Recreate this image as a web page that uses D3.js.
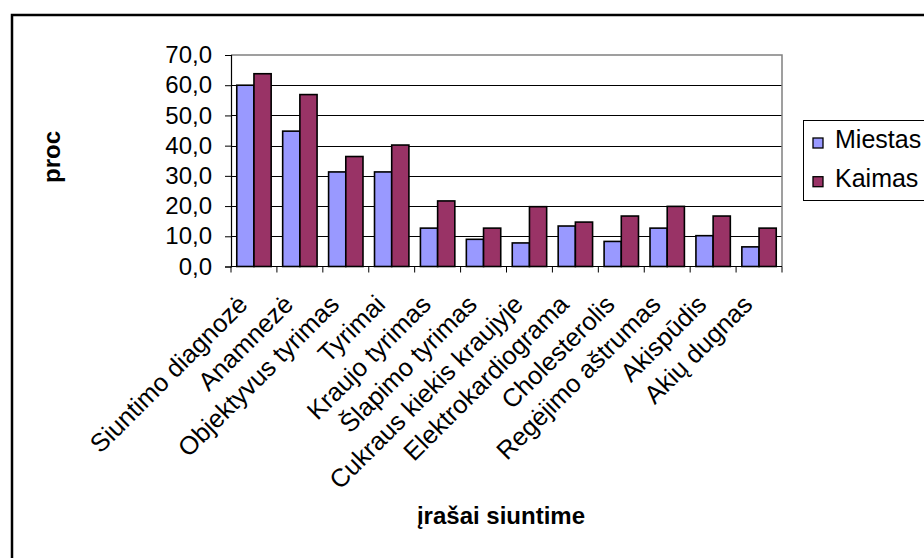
<!DOCTYPE html>
<html>
<head>
<meta charset="utf-8">
<script src="https://cdn.jsdelivr.net/npm/d3@7"></script>
<style>
  html, body { margin: 0; padding: 0; background: #fff; overflow: hidden; }
  svg { display: block; font-family: "Liberation Sans", Arial, sans-serif; }
</style>
</head>
<body>
<svg id="chart" width="924" height="558"></svg>
<script>
// Categories and series values (percent)
const categories = [
  "Siuntimo diagnozė", "Anamnezė", "Objektyvus tyrimas", "Tyrimai",
  "Kraujo tyrimas", "Šlapimo tyrimas", "Cukraus kiekis kraujyje",
  "Elektrokardiograma", "Cholesterolis", "Regėjimo aštrumas",
  "Akispūdis", "Akių dugnas"
];
const seriesNames = ["Miestas", "Kaimas"];
const miestas = [60.0, 44.8, 31.3, 31.3, 12.7, 9.0, 7.8, 13.4, 8.3, 12.7, 10.2, 6.5];
const kaimas  = [63.8, 56.9, 36.4, 40.2, 21.7, 12.7, 19.8, 14.7, 16.7, 19.9, 16.7, 12.7];
const yTicks = [0, 10, 20, 30, 40, 50, 60, 70];
const colors = ["#9999FF", "#993366"];

const FONT = 24;
const svg = d3.select("#chart");
const plot = { left: 231, right: 782, top: 55, bottom: 266.5 };

// Outer chart frame
svg.append("rect")
  .attr("x", 12).attr("y", 15)
  .attr("width", 930).attr("height", 560)
  .attr("fill", "none").attr("stroke", "#000").attr("stroke-width", 2.5);

const x0 = d3.scaleBand().domain(categories).range([plot.left, plot.right]).paddingInner(0).paddingOuter(0);
const x1 = d3.scaleBand().domain(seriesNames).range([0, x0.bandwidth()]).paddingInner(0).paddingOuter(0.335);
const y = d3.scaleLinear().domain([0, 70]).range([plot.bottom, plot.top]);

// Horizontal gridlines
svg.append("g").selectAll("line")
  .data(yTicks.filter(t => t > 0 && t < 70))
  .join("line")
  .attr("x1", plot.left).attr("x2", plot.right)
  .attr("y1", d => Math.round(y(d)) + 0.5).attr("y2", d => Math.round(y(d)) + 0.5)
  .attr("stroke", "#000").attr("stroke-width", 1);

// Plot area border (top and right)
svg.append("path")
  .attr("d", `M${plot.left},${plot.top}H${plot.right}V${plot.bottom}`)
  .attr("fill", "none").attr("stroke", "#808080").attr("stroke-width", 1.5);

// Bars
const rows = categories.map((c, i) => ({ c, vals: [miestas[i], kaimas[i]] }));
const groups = svg.append("g").selectAll("g")
  .data(rows).join("g")
  .attr("transform", d => `translate(${x0(d.c)},0)`);
groups.selectAll("rect")
  .data(d => d.vals.map((v, k) => ({ name: seriesNames[k], v, k })))
  .join("rect")
  .attr("x", d => x1(d.name))
  .attr("y", d => y(d.v))
  .attr("width", x1.bandwidth())
  .attr("height", d => y(0) - y(d.v))
  .attr("fill", d => colors[d.k])
  .attr("stroke", "#000").attr("stroke-width", 1.6);

// Y axis
const yAxis = d3.axisLeft(y).tickValues(yTicks).tickSize(6).tickPadding(13)
  .tickFormat(d => d3.format(".1f")(d).replace(".", ","));
const gy = svg.append("g").attr("transform", `translate(${plot.left},0)`).call(yAxis);
gy.select(".domain").attr("stroke", "#000").attr("stroke-width", 1.2);
gy.selectAll(".tick line").attr("stroke", "#000");
gy.selectAll(".tick text").attr("font-size", FONT).attr("fill", "#000")
  .attr("font-family", "Liberation Sans, Arial, sans-serif");

// X axis line and category boundary ticks
svg.append("line")
  .attr("x1", plot.left).attr("x2", plot.right)
  .attr("y1", plot.bottom).attr("y2", plot.bottom)
  .attr("stroke", "#000").attr("stroke-width", 1.2);
const boundaries = categories.map(c => x0(c)).concat([plot.right]);
svg.append("g").selectAll("line")
  .data(boundaries).join("line")
  .attr("x1", d => d).attr("x2", d => d)
  .attr("y1", plot.bottom).attr("y2", plot.bottom + 6)
  .attr("stroke", "#000").attr("stroke-width", 1);

// Rotated category labels
svg.append("g").selectAll("text")
  .data(categories).join("text")
  .attr("transform", d => `translate(${x0(d) + x0.bandwidth() / 2 - 5},306) rotate(-45)`)
  .attr("text-anchor", "end")
  .attr("font-size", 25.5)
  .attr("fill", "#000")
  .text(d => d);

// Axis titles
svg.append("text")
  .attr("transform", "translate(60,157) rotate(-90)")
  .attr("text-anchor", "middle")
  .attr("font-size", FONT).attr("font-weight", "bold")
  .text("proc");
svg.append("text")
  .attr("x", 501).attr("y", 524)
  .attr("text-anchor", "middle")
  .attr("font-size", FONT).attr("font-weight", "bold")
  .text("įrašai siuntime");

// Legend
const legend = svg.append("g");
legend.append("rect")
  .attr("x", 803.5).attr("y", 120.5).attr("width", 140).attr("height", 80)
  .attr("fill", "#fff").attr("stroke", "#000").attr("stroke-width", 1);
seriesNames.forEach((name, i) => {
  const yy = 138 + i * 38.7;
  legend.append("rect")
    .attr("x", 813).attr("y", yy).attr("width", 10).attr("height", 10)
    .attr("fill", colors[i]).attr("stroke", "#000").attr("stroke-width", 1.3);
  legend.append("text")
    .attr("x", 835).attr("y", yy + 10)
    .attr("font-size", 25).attr("fill", "#000")
    .text(name);
});
</script>
</body>
</html>
